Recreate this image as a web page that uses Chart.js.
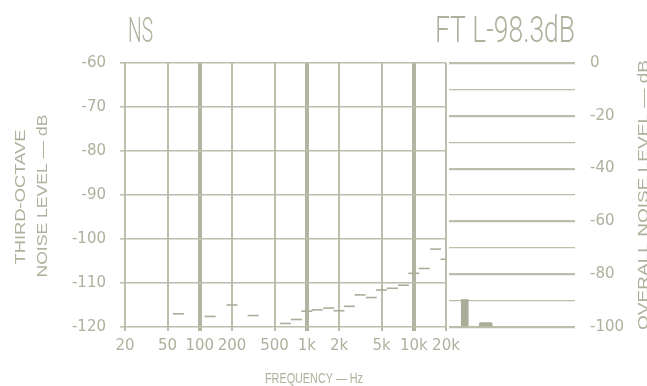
<!DOCTYPE html>
<html><head><meta charset="utf-8">
<script src="https://cdn.jsdelivr.net/npm/chart.js@4.4.1/dist/chart.umd.min.js"></script>
<style>
html,body{margin:0;padding:0;background:#fff;}
#wrap{position:relative;width:647px;height:386px;overflow:hidden;background:#fff;}
canvas{position:absolute;left:0;top:0;}
</style></head><body>
<div id="wrap"><canvas id="c1" width="647" height="386"></canvas><canvas id="c2" width="647" height="386"></canvas></div>
<script>
// ---- data ----
const bandFreqs = [20,25,31.5,40,50,63,80,100,125,160,200,250,315,400,500,630,800,1000,1250,1600,2000,2500,3150,4000,5000,6300,8000,10000,12500,16000,20000];
const bandLevels = [null,null,null,null,null,-117,null,null,-117.6,null,-115,null,-117.4,null,null,-119.2,-118.3,-116.4,-116.1,-115.7,-116.3,-115.3,-112.7,-113.3,-111.6,-111.2,-110.5,-107.8,-106.7,-102.3,-104.6];
const freqTicks = [20,50,100,200,500,1000,2000,5000,10000,20000];
const freqTickLabels = ['20','50','100','200','500','1k','2k','5k','10k','20k'];
const decadeLines = [100,1000,10000];
const overallCats = ['1','2','3','4','5','6','7','8','9','10','11','12'];
const peakValues = [null,-89.6,null,null,null,null,null,null,null,null,null,null];
const overallValues = [null,null,null,-98.3,null,null,null,null,null,null,null,null];
const titleLeft = 'NS';
const titleRight = 'FT L-98.3dB';

const LINE = '#bcbeab';
const LINE_DARK = '#b3b5a2';
const TEXT = '#aeb19c';
const MARK = '#aaad97';
const TICK_FONT = {family:'DejaVu Sans', size:15};

function drawFit(ctx, text, cx, cy, len, font, rot, baseline){
  ctx.save();
  ctx.font = font;
  ctx.fillStyle = TEXT;
  ctx.textAlign = 'center';
  ctx.textBaseline = baseline || 'middle';
  const w = ctx.measureText(text).width;
  ctx.translate(cx, cy);
  if (rot) ctx.rotate(rot);
  ctx.scale(len / w, 1);
  ctx.fillText(text, 0, 0);
  ctx.restore();
}

const textPlugin = {
  id:'texts',
  afterDraw(chart){
    const ctx = chart.ctx;
    drawFit(ctx, titleLeft, 140.5, 42, 25, '300 35px Roboto', 0, 'alphabetic');
    drawFit(ctx, titleRight, 505, 42, 140, '300 37px Roboto', 0, 'alphabetic');
    drawFit(ctx, 'FREQUENCY — Hz', 314, 383, 98, '14px "Liberation Sans"', 0, 'alphabetic');
    drawFit(ctx, 'THIRD-OCTAVE', 21, 197, 135, '15px "Liberation Sans"', -Math.PI/2);
    drawFit(ctx, 'NOISE LEVEL — dB', 43, 196, 163, '15px "Liberation Sans"', -Math.PI/2);
    drawFit(ctx, 'OVERALL NOISE LEVEL — dB', 644, 195, 270, '15px "Liberation Sans"', -Math.PI/2);
  }
};

const bandPoints = bandFreqs.map((f,i)=>({x:f, y:bandLevels[i]})).filter(p=>p.y!==null);

new Chart(document.getElementById('c1'), {
  type:'scatter',
  data:{datasets:[{
    data: bandPoints,
    pointStyle:'line', pointRadius:5.5, pointHoverRadius:5.5,
    borderColor: MARK, borderWidth:1.6, backgroundColor: MARK, showLine:false
  }]},
  options:{
    responsive:false, animation:false, devicePixelRatio:1,
    layout:{padding:{left:0, top:63, right:201, bottom:0}},
    plugins:{legend:{display:false}, tooltip:{enabled:false}},
    scales:{
      x:{
        type:'logarithmic', min:20, max:20000,
        afterBuildTicks(s){ s.ticks = freqTicks.map(v=>({value:v})); },
        afterFit(s){ s.height = 59; },
        ticks:{ autoSkip:false, maxRotation:0, color:TEXT, font:TICK_FONT, padding:6,
          callback(v){ const i = freqTicks.indexOf(v); return i>=0 ? freqTickLabels[i] : ''; } },
        grid:{ color: ctx => decadeLines.includes(ctx.tick && ctx.tick.value) ? LINE_DARK : LINE,
               lineWidth: ctx => decadeLines.includes(ctx.tick && ctx.tick.value) ? 4 : 2,
               tickLength:4 },
        border:{display:false}
      },
      y:{
        min:-120, max:-60,
        afterFit(s){ s.width = 125; },
        ticks:{ stepSize:10, color:TEXT, font:TICK_FONT, padding:14 },
        grid:{ color:LINE, lineWidth:1.6, tickLength:5 },
        border:{display:false}
      }
    }
  },
  plugins:[textPlugin]
});

new Chart(document.getElementById('c2'), {
  type:'bar',
  data:{labels: overallCats, datasets:[
    {data: peakValues, base:-100, barThickness:7, backgroundColor: MARK, grouped:false},
    {data: overallValues, base:-100, barThickness:13, backgroundColor: MARK, borderRadius:4, borderSkipped:'bottom', grouped:false}
  ]},
  options:{
    responsive:false, animation:false, devicePixelRatio:1,
    layout:{padding:{left:449, top:63, right:0, bottom:59}},
    plugins:{legend:{display:false}, tooltip:{enabled:false}},
    scales:{
      x:{display:false},
      y:{
        position:'right', min:-100, max:0,
        afterFit(s){ s.width = 72; },
        ticks:{ stepSize:10, autoSkip:false, color:TEXT, font:TICK_FONT, padding:15,
          callback(v){ return v % 20 === 0 ? String(v) : ''; } },
        grid:{ color:LINE, lineWidth: ctx => (ctx.tick && ctx.tick.value % 20 === 0) ? 2.2 : 1.3, drawTicks:false },
        border:{display:false}
      }
    }
  }
});
</script>
</body></html>
